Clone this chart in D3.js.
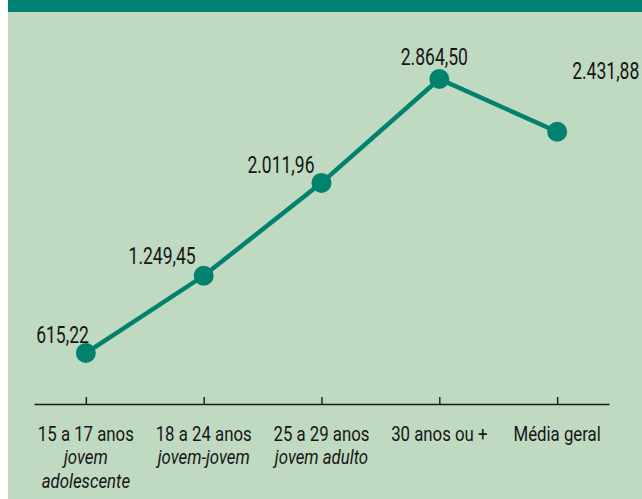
<!DOCTYPE html>
<html>
<head>
<meta charset="utf-8">
<script src="https://cdn.jsdelivr.net/npm/d3@7"></script>
<style>
  body { margin: 0; background: #ffffff; }
  svg text { font-family: "Liberation Sans Narrow", Roboto, "Liberation Sans", sans-serif; fill: #161616; }
</style>
</head>
<body>
<div id="mainGraphic"></div>
<script>
let svgWidth = 642
let svgHeight = 499

// data
let categories = ["15 a 17 anos", "18 a 24 anos", "25 a 29 anos", "30 anos ou +", "Média geral"]
let subLabels = [["jovem", "adolescente"], ["jovem-jovem"], ["jovem adulto"], [], []]
let values = [615.22, 1249.45, 2011.96, 2864.50, 2431.88]

// where each value label sits relative to its dot
let labelPos = [
  {dx: 3, dy: -10, anchor: "end"},
  {dx: -8, dy: -12, anchor: "end"},
  {dx: -7, dy: -10, anchor: "end"},
  {dx: -5, dy: -14, anchor: "middle"},
  {dx: 15, dy: -53, anchor: "start"}
]

let teal = "#00826f"
let squeeze = 0.73   // fake a condensed face

renderChart();

function renderChart(){
  let graphic = d3.select("#mainGraphic")
    .append("svg")
      .attr("width", svgWidth)
      .attr("height", svgHeight)

  graphic.append("rect")
    .attr("x", 8).attr("y", 0)
    .attr("width", svgWidth - 8).attr("height", svgHeight)
    .attr("fill", "#c0d9c1")
  graphic.append("rect")
    .attr("x", 8).attr("y", 0)
    .attr("width", svgWidth - 8).attr("height", 12)
    .attr("fill", "#008272")

  let ptBR = d3.formatLocale({decimal: ",", thousands: ".", grouping: [3], currency: ["R$", ""]})
  let fmt = ptBR.format(",.2f")

  let x = d3.scalePoint()
    .domain(categories)
    .range([34, 609])
    .padding(0.44)
  let y = d3.scaleLinear()
    .domain([0, 3000])
    .range([428, 62.5])

  let axis = graphic.append("g")
    .attr("transform", "translate(0,404)")
    .call(d3.axisBottom(x).tickSize(-7).tickSizeOuter(0).tickFormat(""))
  axis.select(".domain").attr("stroke", "#1a1a1a").attr("stroke-width", 1.6)
  axis.selectAll(".tick line").attr("stroke", "#1a1a1a").attr("stroke-width", 1.4)

  let catLabel = graphic.append("g")
    .selectAll("text")
    .data(categories)
    .enter()
    .append("text")
      .attr("text-anchor", "middle")
      .attr("transform", d => `translate(${x(d)},441) scale(0.8,1)`)
      .style("font-size", "21px")
  catLabel.append("tspan")
    .attr("x", 0)
    .text(d => d)
  catLabel.each(function(d, i){
    subLabels[i].forEach(function(s){
      d3.select(this).append("tspan")
        .attr("x", 0)
        .attr("dy", 23.5)
        .style("font-style", "italic")
        .text(s)
    }, this)
  })

  let points = categories.map((c, i) => ({cat: c, val: values[i], pos: labelPos[i]}))

  let line = d3.line()
    .x(d => x(d.cat))
    .y(d => y(d.val))

  graphic.append("path")
    .datum(points)
    .attr("d", line)
    .attr("fill", "none")
    .attr("stroke", teal)
    .attr("stroke-width", 4.5)

  graphic.append("g")
    .selectAll("circle")
    .data(points)
    .enter()
    .append("circle")
      .attr("cx", d => x(d.cat))
      .attr("cy", d => y(d.val))
      .attr("r", 10)
      .attr("fill", teal)

  graphic.append("g")
    .selectAll("text")
    .data(points)
    .enter()
    .append("text")
      .attr("transform", d => `translate(${x(d.cat) + d.pos.dx},${y(d.val) + d.pos.dy}) scale(${squeeze},1)`)
      .attr("text-anchor", d => d.pos.anchor)
      .style("font-size", "24px")
      .text(d => fmt(d.val))
}
</script>
</body>
</html>
